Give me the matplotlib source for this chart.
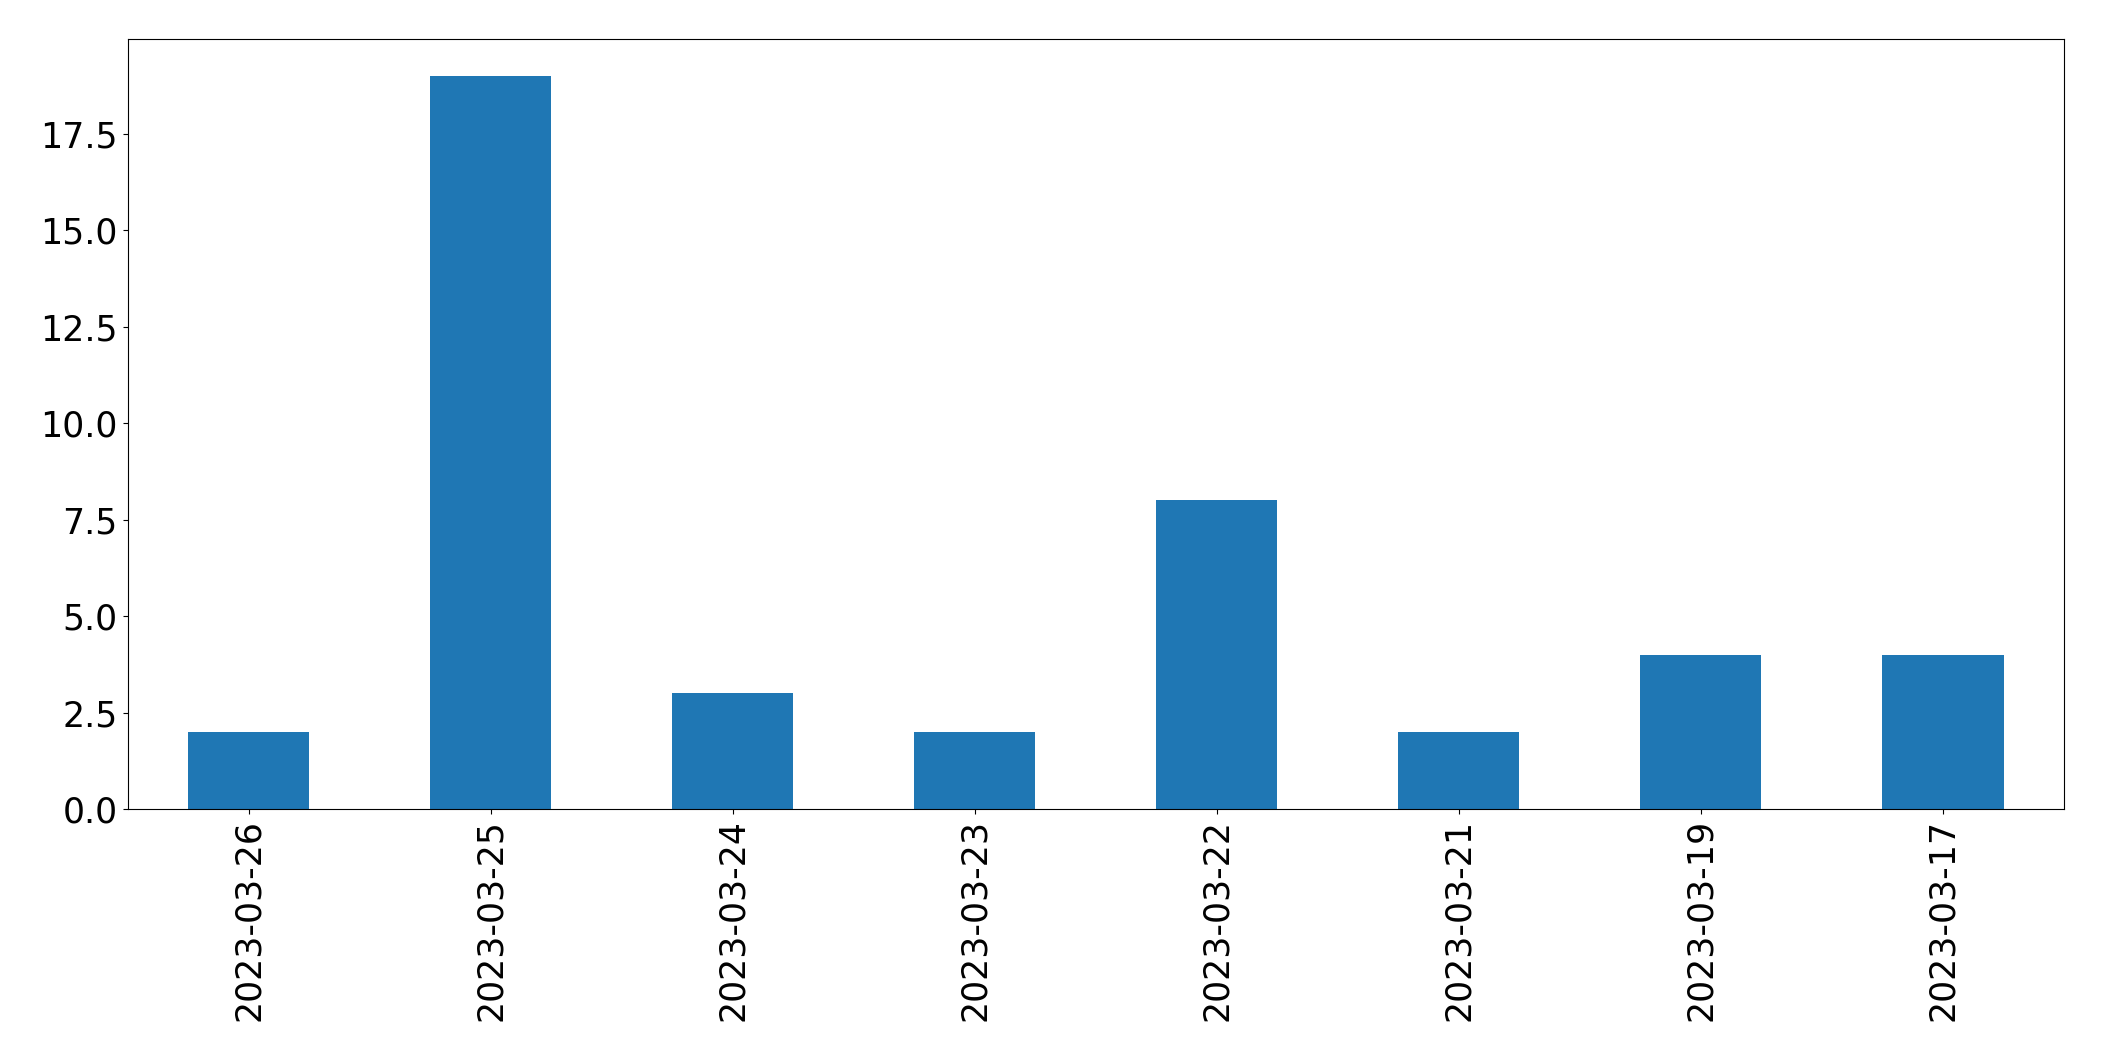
import matplotlib
matplotlib.use("Agg")
import matplotlib.pyplot as plt

dates = ["2023-03-26", "2023-03-25", "2023-03-24", "2023-03-23",
         "2023-03-22", "2023-03-21", "2023-03-19", "2023-03-17"]
counts = [2, 19, 3, 2, 8, 2, 4, 4]

fig = plt.figure(figsize=(21.04, 10.61), dpi=100)
ax = fig.add_axes([0.0606, 0.2375, 0.9204, 0.7255])
x = range(len(dates))
ax.bar(x, counts, width=0.5, color="#1f77b4")
ax.set_xticks(list(x))
ax.set_xticklabels(dates, rotation=90)
ax.set_xlim(-0.5, len(dates) - 0.5)
ax.tick_params(labelsize=25)
fig.savefig("out.png", dpi=100)
